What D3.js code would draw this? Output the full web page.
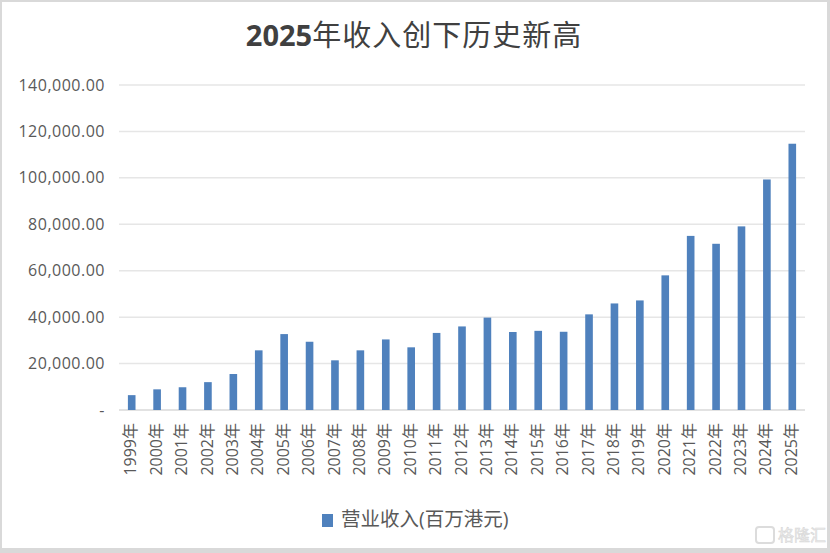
<!DOCTYPE html>
<html><head><meta charset="utf-8">
<script src="https://cdn.jsdelivr.net/npm/d3@7"></script>
<style>
html,body{margin:0;padding:0;background:#fff;}
svg{display:block;}
</style></head>
<body><svg id="c" width="830" height="553"></svg>
<script>
const years = ["1999","2000","2001","2002","2003","2004","2005","2006","2007","2008","2009","2010","2011","2012","2013","2014","2015","2016","2017","2018","2019","2020","2021","2022","2023","2024","2025"];
const revenue = [6400,8900,9800,12000,15500,25700,32700,29400,21400,25700,30400,27000,33200,36000,39800,33600,34100,33700,41200,45900,47200,58000,75000,71600,79100,99300,114700];
const yTicks = [0,20000,40000,60000,80000,100000,120000,140000];
const titleNum = "2025";
const titleText = "年收入创下历史新高";
const seriesName = "营业收入(百万港元)";

const svg = d3.select("#c");
const W = 830, H = 553;
const m = {left:119, right:25, top:85, bottom:143};

// frame
svg.append("rect").attr("x",0).attr("y",0).attr("width",W).attr("height",H).attr("fill","#d9d9d9");
svg.append("rect").attr("x",2).attr("y",2).attr("width",825).attr("height",546).attr("fill","#fff");

const x = d3.scaleBand().domain(years).range([m.left, W-m.right]).paddingInner(0.7).paddingOuter(0.35);
const y = d3.scaleLinear().domain([0,140000]).range([H-m.bottom, m.top]);

const font = "'Open Sans','Noto Sans CJK SC',sans-serif";

// gridlines
svg.append("g").selectAll("line").data(yTicks).join("line")
  .attr("x1",m.left).attr("x2",W-m.right)
  .attr("y1",d=>y(d)).attr("y2",d=>y(d))
  .attr("stroke",d=>d===0?"#d9d9d9":"#e6e6e6").attr("stroke-width",1.5);

// y axis labels
const fmt = d3.format(",.2f");
const yAxis = d3.axisLeft(y).tickValues(yTicks).tickSize(0).tickPadding(14)
  .tickFormat(d=>d===0?"-":fmt(d));
const gy = svg.append("g").attr("transform",`translate(${m.left},0)`).call(yAxis);
gy.select(".domain").remove();
gy.selectAll("text").attr("font-family",font).attr("font-size",16).attr("letter-spacing",0.5).attr("fill","#595959");

// bars
svg.append("g").selectAll("rect").data(revenue).join("rect")
  .attr("x",(d,i)=>x(years[i])).attr("width",x.bandwidth())
  .attr("y",d=>y(d)).attr("height",d=>y(0)-y(d))
  .attr("fill","#4f81bd");

// x axis labels
const xAxis = d3.axisBottom(x).tickSize(0).tickFormat(d=>d+"年");
const gx = svg.append("g").attr("transform",`translate(0,${y(0)})`).call(xAxis);
gx.select(".domain").remove();
gx.selectAll("text")
  .attr("font-family",font).attr("font-size",16).attr("fill","#595959")
  .attr("text-anchor","end").attr("dy","0.35em")
  .attr("transform","translate(-1,13) rotate(-90)")
  .attr("x",0).attr("y",0);

// title
const t = svg.append("text").attr("x",414).attr("y",46).attr("text-anchor","middle")
  .attr("font-family",font).attr("font-size",29).attr("fill","#404040");
t.append("tspan").attr("font-weight","bold").text(titleNum);
t.append("tspan").attr("font-weight","normal").attr("letter-spacing",1).text(titleText);

// legend
svg.append("rect").attr("x",322).attr("y",514).attr("width",11).attr("height",13).attr("fill","#4f81bd");
svg.append("text").attr("x",341).attr("y",519).attr("dy","0.35em")
  .attr("font-family",font).attr("font-size",19.5).attr("fill","#595959").text(seriesName);

// watermark
svg.append("rect").attr("x",756).attr("y",527).attr("width",18).attr("height",16).attr("rx",3)
  .attr("fill","none").attr("stroke","#dcdcdc").attr("stroke-width",2);
svg.append("text").attr("x",778).attr("y",535).attr("dy","0.35em")
  .attr("font-family",font).attr("font-size",16).attr("fill","#ececec").attr("stroke","#d6d6d6").attr("stroke-width",0.5)
  .text("格隆汇");
</script></body></html>
